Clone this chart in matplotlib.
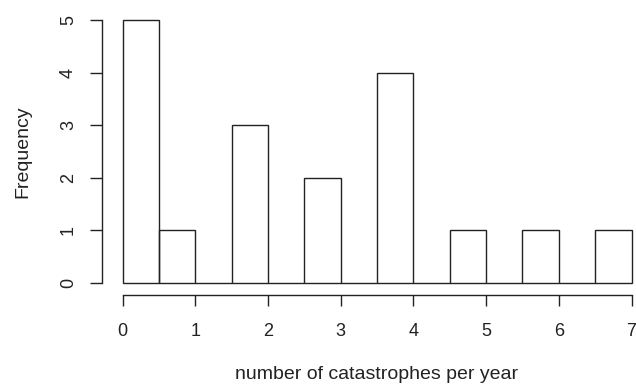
import matplotlib
matplotlib.use('Agg')
import matplotlib.pyplot as plt

plt.rcParams['font.family'] = ['Liberation Sans', 'DejaVu Sans']

# Histogram bins (width 0.5) and counts
bin_edges = [0.0, 0.5, 1.0, 1.5, 2.0, 2.5, 3.0, 3.5, 4.0, 4.5, 5.0, 5.5, 6.0, 6.5, 7.0]
counts = [5, 1, 0, 3, 0, 2, 0, 4, 0, 1, 0, 1, 0, 1]
x_ticks = [0, 1, 2, 3, 4, 5, 6, 7]
y_ticks = [0, 1, 2, 3, 4, 5]

W, H = 636, 389
fig = plt.figure(figsize=(W / 100, H / 100), dpi=100)
# axes box in pixels: x 0->7 spans 122.5..631.5, y 0->5 spans 283..20
ax = fig.add_axes([122.5 / W, 1 - 283 / H, 509 / W, 263 / H])

ax.bar(bin_edges[:-1], counts, width=0.5, align='edge', fill=False,
       edgecolor='#222222', linewidth=1.0, clip_on=False)

ax.set_xlim(0, 7)
ax.set_ylim(0, 5)

for s in ['top', 'right']:
    ax.spines[s].set_visible(False)
ax.spines['left'].set_position(('outward', 21 * 0.72))
ax.spines['bottom'].set_position(('outward', 12 * 0.72))
ax.spines['left'].set_bounds(0, 5)
ax.spines['bottom'].set_bounds(0, 7)
for s in ['left', 'bottom']:
    ax.spines[s].set_color('#222222')
    ax.spines[s].set_linewidth(1.0)

ax.set_xticks(x_ticks)
ax.set_yticks(y_ticks)
ax.tick_params(axis='both', width=1.0, color='#222222',
               labelsize=13, labelcolor='#222222')
ax.tick_params(axis='x', length=8, pad=12)
ax.tick_params(axis='y', length=8.6, pad=9)
for lab in ax.get_yticklabels():
    lab.set_rotation(90)
    lab.set_va('center')

ax.set_xlabel('number of catastrophes per year', fontsize=14, color='#222222')
ax.set_ylabel('Frequency', fontsize=14, color='#222222')
ax.xaxis.set_label_coords(0.5, (283 - 366) / 263)
ax.yaxis.set_label_coords((31 - 122.5) / 509, 0.5)

fig.savefig('out.png', dpi=100)
